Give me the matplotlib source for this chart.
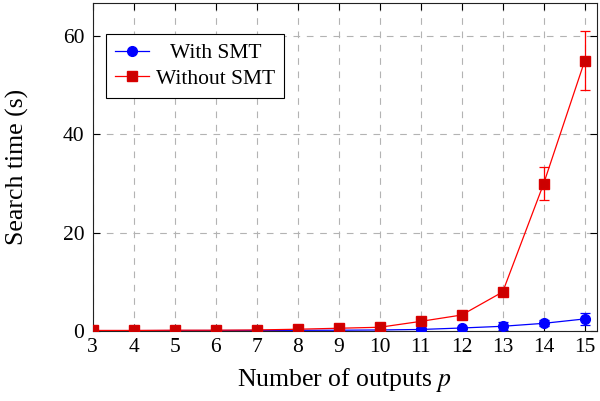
import numpy as np
import matplotlib.pyplot as plt

plt.rcParams['font.family'] = ['Liberation Serif', 'DejaVu Serif']
plt.rcParams['mathtext.fontset'] = 'stix'

# data
outputs = [3, 4, 5, 6, 7, 8, 9, 10, 11, 12, 13, 14, 15]
with_smt = [0.02, 0.02, 0.03, 0.04, 0.05, 0.08, 0.1, 0.15, 0.25, 0.55, 0.9, 1.5, 2.4]
with_smt_err = [0.01, 0.01, 0.01, 0.02, 0.02, 0.03, 0.05, 0.08, 0.15, 0.3, 0.8, 0.6, 1.3]
without_smt = [0.05, 0.05, 0.1, 0.1, 0.15, 0.3, 0.5, 0.7, 1.9, 3.2, 7.9, 30.0, 55.0]
without_smt_err = [0.02, 0.02, 0.03, 0.03, 0.05, 0.1, 0.15, 0.2, 0.3, 0.4, 0.5, 3.3, 6.0]

fig = plt.figure(figsize=(6.0, 4.01), dpi=100)
ax = fig.add_axes([92.7 / 600, (401 - 330.7) / 401, (597 - 92.7) / 600, (330.7 - 3) / 401])

e1 = ax.errorbar(outputs, with_smt, yerr=with_smt_err, color=(0, 0, 1), linewidth=0.9,
                 marker='o', markersize=7, markerfacecolor=(0, 0, 1), markeredgecolor=(0, 0, 1),
                 capsize=3.5, elinewidth=0.9, capthick=0.9, zorder=3)
e2 = ax.errorbar(outputs, without_smt, yerr=without_smt_err, color=(1, 0, 0), linewidth=0.9,
                 marker='s', markersize=7, markerfacecolor=(0.8, 0, 0), markeredgecolor=(0.85, 0, 0),
                 capsize=3.5, elinewidth=0.9, capthick=0.9, zorder=4)

ax.set_xlim(3, 15.3)
ax.set_ylim(0, 66.8)
ax.set_xticks(outputs)
ax.set_yticks([0, 20, 40, 60])
ax.tick_params(direction='in', top=True, right=True, length=5, labelsize=15.5)
ax.tick_params(axis='x', pad=5)
ax.tick_params(axis='y', pad=6)
ax.grid(True, color='#b3b3b3', linestyle=(0, (6, 6)), linewidth=0.8)
ax.set_axisbelow(True)
for s in ax.spines.values():
    s.set_linewidth(0.8)
    s.set_color('#222222')

ax.set_xlabel('Number of outputs $p$', fontsize=18.5, labelpad=7)
ax.set_ylabel('Search time (s)', fontsize=18.5, labelpad=24)

leg = ax.legend([e1[0], e2[0]], ['With SMT', 'Without SMT'],
                loc='upper left', bbox_to_anchor=(0.026, 0.905), fontsize=15.5, fancybox=False,
                edgecolor='black', framealpha=1, borderpad=0.42, handlelength=1.6,
                labelspacing=0.25, handletextpad=0.3, borderaxespad=0)
leg.get_frame().set_linewidth(0.8)

# centre the legend entries like pgfplots does
fig.canvas.draw()
texts = leg.get_texts()
widths = [t.get_window_extent().width for t in texts]
for t, w in zip(texts, widths):
    t.set_x((max(widths) - w) / 2)

fig.savefig('out.png', dpi=100)
